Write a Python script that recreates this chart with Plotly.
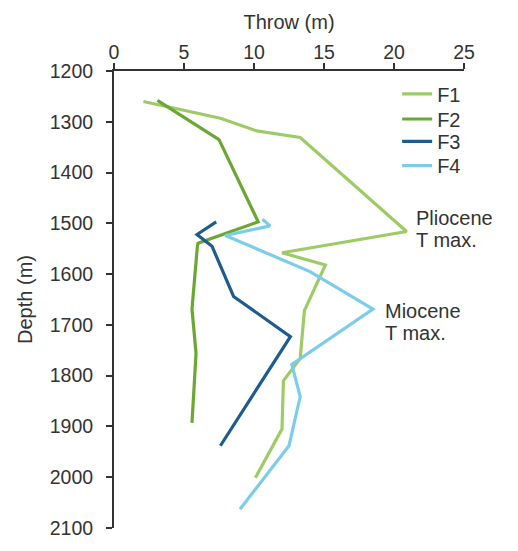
import plotly.graph_objects as go

# Data: throw (m) vs depth (m)
f1_throw = [2.1, 7.6, 10.2, 13.3, 20.9, 12.0, 15.1, 13.6, 13.3, 12.1, 12.0, 10.1]
f1_depth = [1260, 1293, 1318, 1331, 1516, 1558, 1582, 1672, 1766, 1810, 1905, 2001]

f2_throw = [3.1, 7.5, 10.3, 6.0, 5.95, 5.57, 5.86, 5.57]
f2_depth = [1258, 1335, 1497, 1539, 1547, 1669, 1756, 1893]

f3_throw = [7.3, 5.93, 7.0, 8.54, 12.6, 7.6]
f3_depth = [1497, 1522, 1545, 1644, 1723, 1938]

f4_throw = [10.6, 11.15, 7.95, 14.0, 18.5, 13.3, 12.7, 13.3, 12.5, 9.0]
f4_depth = [1492, 1505, 1524, 1595, 1669, 1766, 1778, 1841, 1938, 2063]

series = [
    ("F1", f1_throw, f1_depth, "#9DCB66"),
    ("F2", f2_throw, f2_depth, "#6BA733"),
    ("F3", f3_throw, f3_depth, "#1F5C8E"),
    ("F4", f4_throw, f4_depth, "#7CCDEA"),
]

x_ticks = [0, 5, 10, 15, 20, 25]
y_ticks = [1200, 1300, 1400, 1500, 1600, 1700, 1800, 1900, 2000, 2100]

# Annotation lines: (text, throw, depth)
notes = [
    ("Pliocene", 21.6, 1490),
    ("T max.", 21.6, 1532),
    ("Miocene", 19.35, 1672),
    ("T max.", 19.35, 1716),
]

text_color = "#333333"
font_family = "Liberation Sans, Arial, sans-serif"

# vertical centre of each legend entry (paper fraction), tight spacing as in the original
legend_y = [0.950, 0.895, 0.846, 0.793]

fig = go.Figure()
legend_layout = {}
for i, (name, x, y, c) in enumerate(series):
    key = "legend" if i == 0 else f"legend{i + 1}"
    fig.add_trace(go.Scatter(x=x, y=y, mode="lines", name=name,
                             line=dict(color=c, width=3.2), legend=key))
    legend_layout[key] = dict(x=0.809, y=legend_y[i], xanchor="left", yanchor="middle",
                              bgcolor="rgba(0,0,0,0)", font=dict(size=20, color=text_color),
                              itemwidth=30, borderwidth=0)

# page body has an 8px margin, so the figure is 8px smaller than the window
fig.update_layout(
    width=510, height=543,
    margin=dict(l=105.5, r=54, t=63, b=23),
    paper_bgcolor="white", plot_bgcolor="white",
    font=dict(family=font_family, size=19.5, color=text_color),
    showlegend=True,
    annotations=[
        dict(x=tx, y=ty, xref="x", yref="y", text=t,
             showarrow=False, xanchor="left", yanchor="middle", align="left",
             xshift=-2, font=dict(size=20, color=text_color))
        for t, tx, ty in notes
    ],
    **legend_layout,
)

fig.update_xaxes(
    side="top", range=[0, 25], tickvals=x_ticks, ticktext=[str(v) for v in x_ticks],
    showgrid=False, zeroline=False, showline=True, linecolor=text_color, linewidth=2,
    ticks="outside", ticklen=6, tickwidth=2, tickcolor=text_color,
    title=dict(text="Throw (m)", standoff=6, font=dict(size=20)),
    tickfont=dict(size=19.5), ticklabelstandoff=-4, automargin=False,
)
fig.update_yaxes(
    range=[2100, 1200], tickvals=y_ticks, ticktext=[str(v) for v in y_ticks],
    showgrid=False, zeroline=False, showline=True, linecolor=text_color, linewidth=2,
    ticks="outside", ticklen=6, tickwidth=2, tickcolor=text_color,
    title=dict(text="Depth (m)", standoff=12, font=dict(size=20)),
    tickfont=dict(size=19.5), ticklabelstandoff=9, automargin=False,
)

fig.write_html("out.html")
